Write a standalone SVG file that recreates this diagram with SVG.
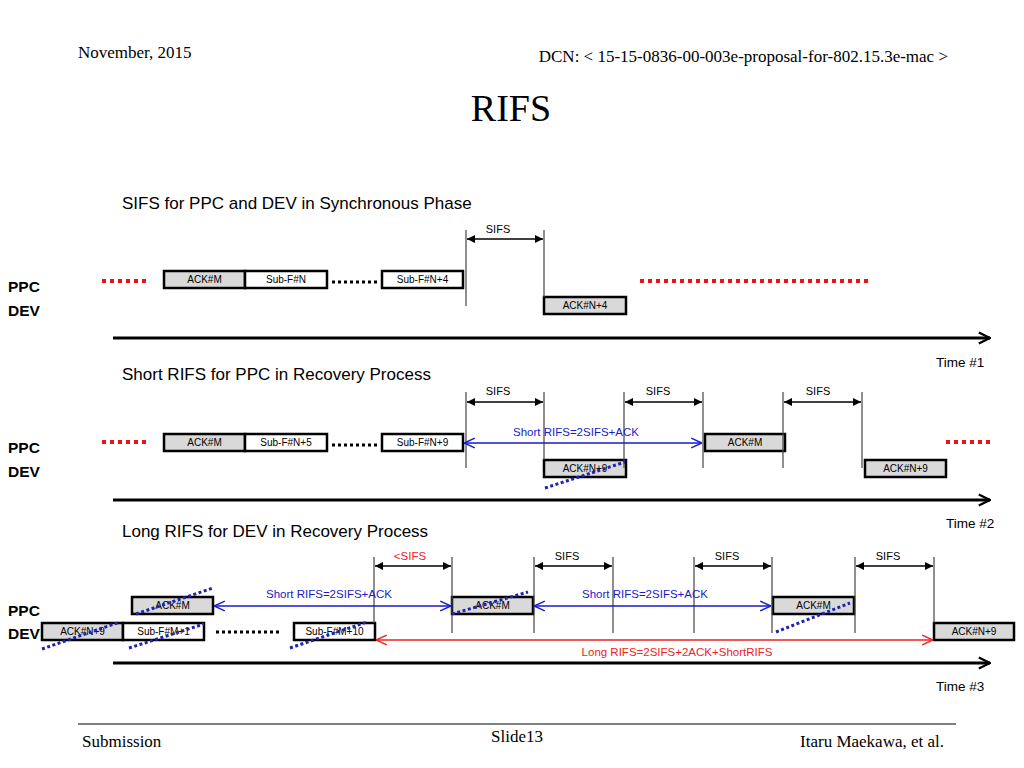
<svg xmlns="http://www.w3.org/2000/svg" width="1024" height="768" viewBox="0 0 1024 768">
<defs>
<style>
.serif{font-family:"Liberation Serif","Times New Roman",serif;fill:#000}
.sans{font-family:"Liberation Sans",Arial,sans-serif;fill:#000}
.box{stroke:#000;stroke-width:2.5}
.ack{fill:#d9d9d9}
.sub{fill:#fff}
.bt{font-family:"Liberation Sans",Arial,sans-serif;font-size:10px;text-anchor:middle;fill:#000}
.vl{stroke:#444;stroke-width:1.2}
.sifs{stroke:#000;stroke-width:1.3;marker-start:url(#fa);marker-end:url(#fa)}
.sl{font-family:"Liberation Sans",Arial,sans-serif;font-size:11px;text-anchor:middle;fill:#000}
.time{stroke:#000;stroke-width:3;marker-end:url(#ta)}
.reddot{stroke:#e8141b;stroke-width:4;stroke-dasharray:4 4}
.blkdot{stroke:#000;stroke-width:3;stroke-dasharray:3 3}
.bluedot{stroke:#2222b0;stroke-width:3;stroke-dasharray:3 2.5}
.blue{stroke:#1a1acc;stroke-width:1.3;marker-start:url(#ba);marker-end:url(#ba)}
.red{stroke:#ee2222;stroke-width:1.3;marker-start:url(#ra);marker-end:url(#ra)}
.bl{font-family:"Liberation Sans",Arial,sans-serif;font-size:11.5px;fill:#1a1acc;text-anchor:middle}
.rl{font-family:"Liberation Sans",Arial,sans-serif;font-size:11.5px;fill:#ee2222;text-anchor:middle}
.title{font-family:"Liberation Sans",Arial,sans-serif;font-size:17px;fill:#000}
.lbl{font-family:"Liberation Sans",Arial,sans-serif;font-size:15.5px;font-weight:bold;fill:#000}
.tl{font-family:"Liberation Sans",Arial,sans-serif;font-size:13.5px;fill:#000}
</style>
<marker id="fa" viewBox="0 0 10 10" refX="10" refY="5" markerWidth="8" markerHeight="8" markerUnits="userSpaceOnUse" orient="auto-start-reverse"><path d="M0,0 L10,5 L0,10 Z" fill="#000"/></marker>
<marker id="ta" viewBox="0 0 10 10" refX="9" refY="5" markerWidth="14" markerHeight="14" markerUnits="userSpaceOnUse" orient="auto"><path d="M1,1 L9,5 L1,9" fill="none" stroke="#000" stroke-width="1.6"/></marker>
<marker id="ba" viewBox="0 0 10 10" refX="10" refY="5" markerWidth="12" markerHeight="12" markerUnits="userSpaceOnUse" orient="auto-start-reverse"><path d="M1,1 L10,5 L1,9" fill="none" stroke="#1a1acc" stroke-width="1.2"/></marker>
<marker id="ra" viewBox="0 0 10 10" refX="10" refY="5" markerWidth="12" markerHeight="12" markerUnits="userSpaceOnUse" orient="auto-start-reverse"><path d="M1,1 L10,5 L1,9" fill="none" stroke="#ee2222" stroke-width="1.2"/></marker>
</defs>
<rect width="1024" height="768" fill="#fff"/>

<g id="header">
<text class="serif" x="78" y="58" font-size="17">November, 2015</text>
<text class="serif" x="948" y="62" font-size="17" text-anchor="end">DCN: &lt; 15-15-0836-00-003e-proposal-for-802.15.3e-mac &gt;</text>
<text class="serif" x="511" y="121" font-size="38" text-anchor="middle">RIFS</text>
</g>

<g id="footer">
<line x1="78" y1="724" x2="956" y2="724" stroke="#000" stroke-width="1"/>
<text class="serif" x="82" y="747" font-size="17">Submission</text>
<text class="serif" x="517" y="742" font-size="17" text-anchor="middle">Slide13</text>
<text class="serif" x="944" y="747" font-size="17" text-anchor="end">Itaru Maekawa, et al.</text>
</g>

<g id="section1">
<text class="title" x="122" y="209">SIFS for PPC and DEV in Synchronous Phase</text>
<text class="lbl" x="8" y="292">PPC</text>
<text class="lbl" x="8" y="316">DEV</text>
<g id="s1-nodes">
<g id="s1-ackm"><rect class="box ack" x="164" y="271" width="81" height="17"/><text class="bt" x="204.5" y="283">ACK#M</text></g>
<g id="s1-subn"><rect class="box sub" x="245" y="271" width="82" height="17"/><text class="bt" x="286" y="283">Sub-F#N</text></g>
<g id="s1-subn4"><rect class="box sub" x="382" y="271" width="81" height="17"/><text class="bt" x="422.5" y="283">Sub-F#N+4</text></g>
<g id="s1-ackn4"><rect class="box ack" x="544" y="297" width="82" height="17"/><text class="bt" x="585" y="309">ACK#N+4</text></g>
</g>
<g id="s1-connectors">
<line class="reddot" x1="102" y1="281" x2="150" y2="281"/>
<line class="reddot" x1="640" y1="281" x2="868" y2="281"/>
<line class="blkdot" x1="332" y1="282" x2="379" y2="282"/>
<line class="vl" x1="466" y1="230" x2="466" y2="306"/>
<line class="vl" x1="544" y1="230" x2="544" y2="297"/>
<line class="sifs" x1="467" y1="239" x2="543" y2="239"/>
<text class="sl" x="498" y="233">SIFS</text>
<line class="time" x1="113" y1="338" x2="990" y2="338"/>
<text class="tl" x="936" y="367">Time #1</text>
</g>
</g>

<g id="section2">
<text class="title" x="122" y="380">Short RIFS for PPC in Recovery Process</text>
<text class="lbl" x="8" y="453">PPC</text>
<text class="lbl" x="8" y="477">DEV</text>
<g id="s2-nodes">
<g id="s2-ackm"><rect class="box ack" x="164" y="434" width="81" height="17"/><text class="bt" x="204.5" y="446">ACK#M</text></g>
<g id="s2-subn5"><rect class="box sub" x="245" y="434" width="82" height="17"/><text class="bt" x="286" y="446">Sub-F#N+5</text></g>
<g id="s2-subn9"><rect class="box sub" x="382" y="434" width="81" height="17"/><text class="bt" x="422.5" y="446">Sub-F#N+9</text></g>
<g id="s2-ackn9a"><rect class="box ack" x="544" y="460" width="82" height="17"/><text class="bt" x="585" y="472">ACK#N+9</text></g>
<g id="s2-ackm2"><rect class="box ack" x="705" y="434" width="80" height="17"/><text class="bt" x="745" y="446">ACK#M</text></g>
<g id="s2-ackn9b"><rect class="box ack" x="865" y="460" width="81" height="17"/><text class="bt" x="905.5" y="472">ACK#N+9</text></g>
</g>
<g id="s2-connectors">
<line class="reddot" x1="102" y1="442" x2="150" y2="442"/>
<line class="reddot" x1="946" y1="442" x2="994" y2="442"/>
<line class="blkdot" x1="332" y1="445" x2="379" y2="445"/>
<line class="vl" x1="466" y1="392" x2="466" y2="468"/>
<line class="vl" x1="544" y1="392" x2="544" y2="460"/>
<line class="vl" x1="624" y1="392" x2="624" y2="468"/>
<line class="vl" x1="703" y1="392" x2="703" y2="468"/>
<line class="vl" x1="783" y1="392" x2="783" y2="468"/>
<line class="vl" x1="862" y1="392" x2="862" y2="468"/>
<line class="sifs" x1="467" y1="402" x2="543" y2="402"/>
<line class="sifs" x1="625" y1="402" x2="702" y2="402"/>
<line class="sifs" x1="784" y1="402" x2="861" y2="402"/>
<text class="sl" x="498" y="395">SIFS</text>
<text class="sl" x="658" y="395">SIFS</text>
<text class="sl" x="818" y="395">SIFS</text>
<line class="blue" x1="464" y1="443" x2="702" y2="443"/>
<text class="bl" x="576" y="436">Short RIFS=2SIFS+ACK</text>
<line class="bluedot" x1="545" y1="488" x2="625" y2="462"/>
<line class="time" x1="113" y1="500" x2="990" y2="500"/>
<text class="tl" x="946" y="528">Time #2</text>
</g>
</g>

<g id="section3">
<text class="title" x="122" y="537">Long RIFS for DEV in Recovery Process</text>
<text class="lbl" x="8" y="616">PPC</text>
<text class="lbl" x="8" y="639">DEV</text>
<g id="s3-nodes">
<g id="s3-ackm1"><rect class="box ack" x="132" y="597" width="81" height="17"/><text class="bt" x="172.5" y="609">ACK#M</text></g>
<g id="s3-ackm2"><rect class="box ack" x="452" y="597" width="81" height="17"/><text class="bt" x="492.5" y="609">ACK#M</text></g>
<g id="s3-ackm3"><rect class="box ack" x="773" y="597" width="81" height="17"/><text class="bt" x="813.5" y="609">ACK#M</text></g>
<g id="s3-ackn9a"><rect class="box ack" x="42" y="623" width="81" height="17"/><text class="bt" x="82.5" y="635">ACK#N+9</text></g>
<g id="s3-subm1"><rect class="box sub" x="123" y="623" width="81" height="17"/><text class="bt" x="163.5" y="635">Sub-F#M+1</text></g>
<g id="s3-subm10"><rect class="box sub" x="294" y="623" width="81" height="17"/><text class="bt" x="334.5" y="635">Sub-F#M+10</text></g>
<g id="s3-ackn9b"><rect class="box ack" x="934" y="623" width="80" height="17"/><text class="bt" x="974" y="635">ACK#N+9</text></g>
</g>
<g id="s3-connectors">
<line class="blkdot" x1="216" y1="632" x2="279" y2="632"/>
<line class="vl" x1="374" y1="557" x2="374" y2="623"/>
<line class="vl" x1="452" y1="557" x2="452" y2="633"/>
<line class="vl" x1="534" y1="557" x2="534" y2="633"/>
<line class="vl" x1="613" y1="557" x2="613" y2="633"/>
<line class="vl" x1="694" y1="557" x2="694" y2="633"/>
<line class="vl" x1="772" y1="557" x2="772" y2="633"/>
<line class="vl" x1="855" y1="557" x2="855" y2="633"/>
<line class="vl" x1="934" y1="557" x2="934" y2="623"/>
<line class="sifs" x1="375" y1="566" x2="451" y2="566"/>
<line class="sifs" x1="535" y1="566" x2="612" y2="566"/>
<line class="sifs" x1="695" y1="566" x2="771" y2="566"/>
<line class="sifs" x1="856" y1="566" x2="933" y2="566"/>
<text class="rl" x="410" y="560">&lt;SIFS</text>
<text class="sl" x="567" y="560">SIFS</text>
<text class="sl" x="727" y="560">SIFS</text>
<text class="sl" x="888" y="560">SIFS</text>
<line class="blue" x1="214" y1="606" x2="451" y2="606"/>
<line class="blue" x1="534" y1="606" x2="771" y2="606"/>
<text class="bl" x="329" y="598">Short RIFS=2SIFS+ACK</text>
<text class="bl" x="645" y="598">Short RIFS=2SIFS+ACK</text>
<line class="red" x1="376" y1="640" x2="933" y2="640"/>
<text class="rl" x="677" y="656">Long RIFS=2SIFS+2ACK+ShortRIFS</text>
<line class="bluedot" x1="136" y1="614" x2="213" y2="588"/>
<line class="bluedot" x1="42" y1="649" x2="120" y2="622"/>
<line class="bluedot" x1="129" y1="648" x2="204" y2="624"/>
<line class="bluedot" x1="290" y1="648" x2="367" y2="622"/>
<line class="bluedot" x1="452" y1="614" x2="528" y2="592"/>
<line class="bluedot" x1="776" y1="632" x2="850" y2="603"/>
<line class="time" x1="113" y1="663" x2="990" y2="663"/>
<text class="tl" x="936" y="691">Time #3</text>
</g>
</g>
</svg>
